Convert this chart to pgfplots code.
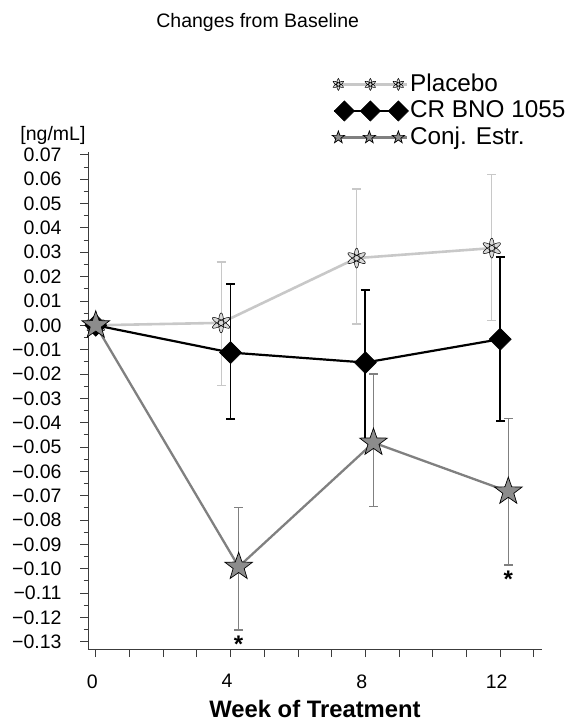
\documentclass[border=0pt]{standalone}
\usepackage{fontspec}
\setmainfont{Liberation Sans}
\usepackage{pgfplots}
\pgfplotsset{compat=1.18}

\definecolor{plc}{RGB}{200,200,200}
\definecolor{cec}{RGB}{128,128,128}
\definecolor{starfill}{RGB}{140,140,140}
\definecolor{axc}{RGB}{60,60,60}

\pgfdeclareplotmark{fstar}{%
  \pgfpathmoveto{\pgfqpointpolar{90}{\pgfplotmarksize}}%
  \pgfpathlineto{\pgfqpointpolar{126}{0.4\pgfplotmarksize}}%
  \pgfpathlineto{\pgfqpointpolar{162}{\pgfplotmarksize}}%
  \pgfpathlineto{\pgfqpointpolar{198}{0.4\pgfplotmarksize}}%
  \pgfpathlineto{\pgfqpointpolar{234}{\pgfplotmarksize}}%
  \pgfpathlineto{\pgfqpointpolar{270}{0.4\pgfplotmarksize}}%
  \pgfpathlineto{\pgfqpointpolar{306}{\pgfplotmarksize}}%
  \pgfpathlineto{\pgfqpointpolar{342}{0.4\pgfplotmarksize}}%
  \pgfpathlineto{\pgfqpointpolar{18}{\pgfplotmarksize}}%
  \pgfpathlineto{\pgfqpointpolar{54}{0.4\pgfplotmarksize}}%
  \pgfpathclose
  \pgfusepathqfillstroke}

\pgfdeclareplotmark{flower}{%
  \pgfpathellipse{\pgfpointorigin}{\pgfqpoint{0pt}{\pgfplotmarksize}}{\pgfqpoint{0.25\pgfplotmarksize}{0pt}}%
  \pgfpathellipse{\pgfpointorigin}{\pgfqpoint{0.866\pgfplotmarksize}{0.5\pgfplotmarksize}}{\pgfqpoint{-0.125\pgfplotmarksize}{0.2165\pgfplotmarksize}}%
  \pgfpathellipse{\pgfpointorigin}{\pgfqpoint{0.866\pgfplotmarksize}{-0.5\pgfplotmarksize}}{\pgfqpoint{0.125\pgfplotmarksize}{0.2165\pgfplotmarksize}}%
  \pgfusepathqfillstroke}

\begin{document}
\begin{tikzpicture}
\begin{axis}[
  scale only axis, width=454pt, height=497pt,
  xmin=-0.23, xmax=13.24, ymin=-0.133, ymax=0.0712,
  axis lines*=left,
  axis line style={axc, line width=0.9pt},
  xtick={0,1,2,3,4,5,6,7,8,9,10,11,12,13},
  xticklabels={0,,,,4,,,,8,,,,12,},
  ytick={-0.13,-0.12,-0.11,-0.10,-0.09,-0.08,-0.07,-0.06,-0.05,-0.04,-0.03,-0.02,-0.01,0,0.01,0.02,0.03,0.04,0.05,0.06,0.07},
  yticklabels={−0.13,−0.12,−0.11,−0.10,−0.09,−0.08,−0.07,−0.06,−0.05,−0.04,−0.03,−0.02,−0.01,0.00,0.01,0.02,0.03,0.04,0.05,0.06,0.07},
  minor y tick num=1,
  tick align=outside,
  major tick length=8pt, minor tick length=4.5pt,
  tick style={axc, line width=0.9pt},
  ticklabel style={font=\fontsize{19.5}{22}\selectfont},
  xticklabel style={yshift=-14pt, xshift=-3.5pt},
  yticklabel style={xshift=-15pt},
  xlabel={\textbf{Week of Treatment}},
  xlabel style={font=\fontsize{23.8}{27}\selectfont, at={(axis description cs:0.5,0)}, anchor=center, yshift=-60pt},
  clip=false,
  legend style={at={(0.5374,1.163)}, anchor=north west, draw=none, fill=none,
    inner sep=0pt, font=\fontsize{24.3}{27}\selectfont, row sep=0pt,
    nodes={inner sep=1.5pt, text height=18.5pt, text depth=5pt}},
  legend cell align=left,
]
\addplot[color=plc, line width=2.6pt,
  mark=flower, mark size=10pt, mark options={draw=black, fill=white!85!black, line width=0.5pt},
  legend image code/.code={%
    \draw[plc, line width=2.6pt] (0pt,0pt) -- (73pt,0pt);
    \draw[black, fill=white!70!black, line width=0.5pt] plot[mark=flower, mark size=6pt, only marks] coordinates {(4pt,0pt) (36pt,0pt) (64pt,0pt)};},
  error bars/.cd, y dir=both, y explicit,
  error bar style={plc, line width=1.2pt},
  error mark options={rotate=90, plc, mark size=4.5pt, line width=1.2pt},
]
coordinates {
  (0,0) +- (0,0)
  (3.72,0.001) += (0,0.025) -= (0,0.0258)
  (7.74,0.0276) += (0,0.0284) -= (0,0.0271)
  (11.75,0.0317) += (0,0.0303) -= (0,0.0298)
};
\addlegendentry{Placebo}

\addplot[color=black, line width=2.2pt,
  mark=square*, mark size=7.8pt, mark options={rotate=45, fill=black, line width=0.5pt},
  legend image code/.code={%
    \draw[black, line width=2.2pt] (0pt,0pt) -- (73pt,0pt);
    \draw[black, fill=black, line width=0.5pt] plot[mark=square*, mark size=7.2pt, mark options={rotate=45}, only marks] coordinates {(10pt,0pt) (36pt,0pt) (64pt,0pt)};},
  error bars/.cd, y dir=both, y explicit,
  error bar style={black, line width=1.8pt},
  error mark options={rotate=90, black, mark size=4.5pt, line width=1.8pt},
]
coordinates {
  (0,0) +- (0,0)
  (4,-0.0112) += (0,0.0281) -= (0,0.0273)
  (8,-0.0153) += (0,0.0297) -= (0,0.0314)
  (12,-0.0057) += (0,0.0339) -= (0,0.0335)
};
\addlegendentry{CR BNO 1055}

\addplot[color=cec, line width=2.3pt,
  mark=fstar, mark size=14.5pt, mark options={draw=black, fill=starfill, line width=0.7pt},
  legend image code/.code={%
    \draw[cec, line width=2.3pt] (0pt,0pt) -- (73pt,0pt);
    \draw[black, fill=starfill, line width=0.5pt] plot[mark=fstar, mark size=6.5pt, only marks] coordinates {(4pt,0pt) (35pt,0pt) (64pt,0pt)};},
  error bars/.cd, y dir=both, y explicit,
  error bar style={cec, line width=1.2pt},
  error mark options={rotate=90, cec, mark size=4.5pt, line width=1.2pt},
]
coordinates {
  (0,0) +- (0,0)
  (4.24,-0.0992) += (0,0.0244) -= (0,0.026)
  (8.24,-0.0482) += (0,0.0282) -= (0,0.0264)
  (12.24,-0.0683) += (0,0.0301) -= (0,0.0302)
};
\addlegendentry{Conj. Estr.}

\node[font=\bfseries\fontsize{24}{24}\selectfont] at (axis cs:4.24,-0.1312) {*};
\node[font=\bfseries\fontsize{24}{24}\selectfont] at (axis cs:12.24,-0.1044) {*};
\node[anchor=east, font=\fontsize{19.5}{22}\selectfont, xshift=1pt, yshift=17pt] at (rel axis cs:0,1) {[ng/mL]};
\node[font=\fontsize{19.5}{22}\selectfont, xshift=169.7pt, yshift=130pt] at (rel axis cs:0,1) {Changes from Baseline};
\end{axis}
\pgfresetboundingbox
\path[use as bounding box] ([shift={(-88pt,-74pt)}]current axis.south west) rectangle ([shift={(24pt,152pt)}]current axis.north east);
\end{tikzpicture}
\end{document}
